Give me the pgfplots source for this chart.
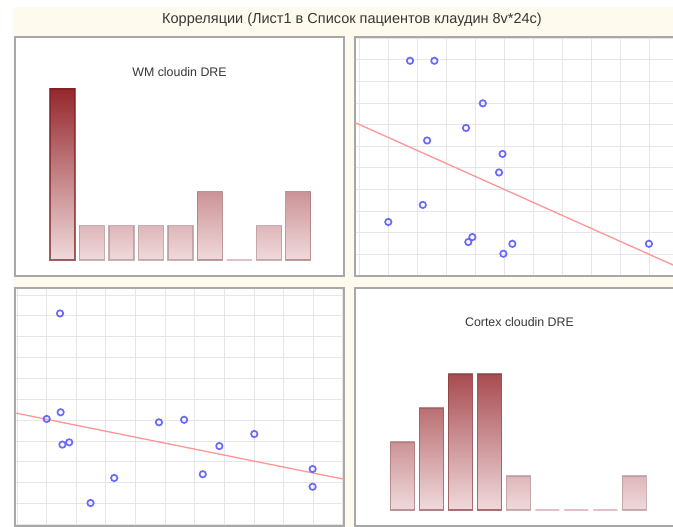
\documentclass[border=0pt]{standalone}
\usepackage{fontspec}
\setmainfont{Liberation Sans}
\usepackage{pgfplots}
\pgfplotsset{compat=1.18}
\definecolor{bg}{RGB}{254,250,237}
\definecolor{panelgray}{RGB}{168,168,168}
\definecolor{gridgray}{RGB}{230,230,230}
\definecolor{barlight}{RGB}{240,218,220}
\definecolor{bardark}{RGB}{150,40,45}
\definecolor{ptblue}{RGB}{105,105,255}
\definecolor{fitpink}{RGB}{255,150,150}
\definecolor{txt}{RGB}{55,55,55}
\colorlet{top100}{bardark}
\colorlet{top80}{bardark!80!barlight}
\colorlet{top60}{bardark!60!barlight}
\colorlet{top40}{bardark!40!barlight}
\colorlet{top20}{bardark!20!barlight}
\pgfplotsset{
  panel/.style={scale only axis, anchor=south west, width=329pt,
    axis background/.style={fill=white},
    axis line style={draw=panelgray, line width=1.5pt},
    xticklabels={}, yticklabels={}, major tick length=0pt, clip=true},
  hist/.style={panel, ybar, bar width=0.848, bar shift=0pt, xtick=\empty, ytick=\empty},
  scat/.style={panel, xtick={0,...,11}, ytick={0,...,11}, grid=major,
    grid style={draw=gridgray, line width=0.9pt}},
  h0/.style={draw=barlight!85!bardark, fill=barlight, line width=1.8pt},
  hbase/.style={bottom color=barlight, draw opacity=0.7, line width=1.3pt},
  hb100/.style={hbase, top color=top100, draw=top100!80!black},
  hb80/.style={hbase, top color=top80, draw=top80!80!black},
  hb60/.style={hbase, top color=top60, draw=top60!80!black},
  hb40/.style={hbase, top color=top40, draw=top40!80!black},
  hb20/.style={hbase, top color=top20, draw=top20!80!black},
  pts/.style={only marks, mark=o, mark size=3.2pt, mark options={draw=ptblue, line width=1.7pt}},
  fit/.style={draw=fitpink, line width=1.3pt, no marks},
}
\begin{document}
\begin{tikzpicture}
\path[use as bounding box, clip] (0pt,0pt) rectangle (673pt,527pt);
\fill[white] (0pt,0pt) rectangle (673pt,527pt);
\fill[bg] (13pt,0pt) rectangle (673pt,520pt);
\node[font=\fontsize{14.5}{17}\selectfont, text=txt] at (352pt,507pt) {Корреляции (Лист1 в Список пациентов клаудин 8v*24c)};

% top-left: WM histogram
\begin{axis}[hist, at={(15pt,251pt)}, height=239pt, xmin=-0.611, xmax=10.55, ymin=-0.468, ymax=6.52]
\addplot[hb100] coordinates {(1,5)};
\addplot[hb20] coordinates {(2,1) (3,1) (4,1) (5,1) (8,1)};
\addplot[hb40] coordinates {(6,2) (9,2)};
\addplot[h0] coordinates {(7,0)};
\node[font=\fontsize{12.4}{14}\selectfont, text=txt] at (rel axis cs:0.5,0.855) {WM cloudin DRE};
\end{axis}

% top-right: scatter
\begin{axis}[scat, at={(355pt,251pt)}, height=239pt, xmin=-0.148, xmax=11.2, ymin=0, ymax=11.06]
\addplot[fit] coordinates {(-0.148,7.10) (11.2,0.28)};
\addplot[pts] coordinates {
(1.75,9.96) (2.59,9.96) (4.26,7.99) (3.68,6.85) (2.34,6.27) (4.94,5.65) (4.82,4.79)
(2.19,3.29) (1.00,2.50) (3.90,1.80) (3.76,1.57) (5.28,1.49) (4.97,1.03) (9.99,1.49)};
\end{axis}

% bottom-left: scatter
\begin{axis}[scat, at={(15pt,1pt)}, height=238pt, xmin=-0.071, xmax=11.04, ymin=-0.072, ymax=11.34]
\addplot[fit] coordinates {(-0.071,5.35) (11.04,2.17)};
\addplot[pts] coordinates {
(1.45,10.12) (1.47,5.38) (1.00,5.06) (1.53,3.83) (1.76,3.94) (3.28,2.23) (2.48,1.03)
(4.79,4.90) (5.64,5.02) (6.27,2.41) (6.83,3.76) (8.01,4.34) (9.98,2.66) (9.98,1.81)};
\end{axis}

% bottom-right: Cortex histogram
\begin{axis}[hist, at={(355pt,1pt)}, height=238pt, xmin=-0.639, xmax=10.71, ymin=-0.47, ymax=6.53, bar width=0.83]
\addplot[hb40] coordinates {(1,2)};
\addplot[hb60] coordinates {(2,3)};
\addplot[hb80] coordinates {(3,4) (4,4)};
\addplot[hb20] coordinates {(5,1) (9,1)};
\addplot[h0] coordinates {(6,0) (7,0) (8,0)};
\node[font=\fontsize{12.4}{14}\selectfont, text=txt] at (rel axis cs:0.5,0.858) {Cortex cloudin DRE};
\end{axis}
\end{tikzpicture}
\end{document}
